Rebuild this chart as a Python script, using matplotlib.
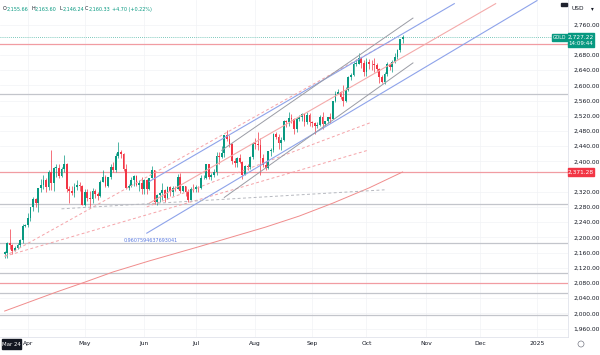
import numpy as np
import pandas as pd
import matplotlib
matplotlib.use("Agg")
from matplotlib import pyplot as plt
from matplotlib.patches import Rectangle, Circle

# daily GOLD candles, 19 Mar 2024 .. 21 Oct 2024
dates = pd.bdate_range("2024-03-19", "2024-10-21")

opens = [
    2155.66, 2160, 2186, 2181, 2165, 2172, 2179, 2194, 2230,
    2232, 2251, 2280, 2300, 2290, 2329, 2339, 2352, 2333, 2372, 2344, 2383, 2383, 2361, 2379, 2392,
    2327, 2322, 2316, 2332, 2337, 2335,
    2286, 2320, 2303, 2301, 2323, 2314, 2309, 2346, 2360, 2336, 2358, 2385, 2376, 2415, 2425, 2420,
    2379, 2329, 2334, 2350, 2361, 2338, 2343,
    2327, 2350, 2327, 2355, 2376, 2294, 2311, 2316, 2324, 2303, 2333, 2319, 2329, 2328, 2360, 2322,
    2334, 2319, 2298, 2327,
    2326, 2332, 2330, 2356, 2356, 2392, 2359, 2364, 2371, 2415, 2411, 2422, 2469, 2459, 2445, 2400,
    2396, 2409, 2398, 2364, 2387, 2384, 2411,
    2447, 2446, 2443, 2410, 2390, 2382, 2427, 2431, 2472, 2465, 2447, 2456, 2507, 2504, 2514, 2512,
    2484, 2512, 2518, 2524, 2504, 2521,
    2503, 2500, 2493, 2495, 2517, 2497, 2506, 2516, 2512, 2558, 2578, 2582, 2569, 2559, 2587, 2622,
    2628, 2657, 2657, 2672, 2658,
    2634, 2662, 2657, 2656, 2653, 2644, 2622, 2608, 2630, 2656, 2649, 2662, 2674, 2692, 2721,
]
highs = [
    2163.60, 2188, 2222, 2183, 2176, 2185, 2196, 2236, 2234,
    2265, 2281, 2305, 2304, 2330, 2354, 2365, 2355, 2376, 2431, 2385, 2393, 2393, 2385, 2417, 2396,
    2335, 2336, 2344, 2352, 2346, 2337,
    2326, 2326, 2323, 2331, 2326, 2318, 2351, 2378, 2364, 2359, 2392, 2398, 2422, 2450, 2430, 2422,
    2393, 2340, 2358, 2364, 2363, 2351, 2360,
    2354, 2353, 2356, 2387, 2378, 2315, 2318, 2342, 2327, 2335, 2335, 2335, 2335, 2366, 2369, 2335,
    2336, 2326, 2332, 2340,
    2338, 2335, 2365, 2363, 2393, 2393, 2368, 2381, 2424, 2424, 2440, 2469, 2483, 2470, 2448, 2408,
    2412, 2419, 2400, 2390, 2394, 2413, 2451,
    2462, 2477, 2461, 2418, 2402, 2428, 2434, 2475, 2478, 2471, 2464, 2509, 2509, 2531, 2525, 2513,
    2517, 2522, 2528, 2525, 2529, 2526,
    2506, 2503, 2504, 2523, 2529, 2507, 2518, 2528, 2560, 2586, 2590, 2586, 2600, 2596, 2625, 2632,
    2664, 2670, 2685, 2674, 2666,
    2673, 2670, 2666, 2671, 2658, 2646, 2626, 2634, 2661, 2660, 2667, 2684, 2696, 2722, 2732,
]
lows = [
    2146.24, 2146, 2168, 2157, 2163, 2168, 2174, 2186, 2228,
    2228, 2244, 2268, 2281, 2267, 2320, 2328, 2320, 2324, 2325, 2323, 2358, 2355, 2358, 2372, 2320,
    2291, 2311, 2305, 2325, 2322, 2285,
    2282, 2295, 2277, 2291, 2303, 2297, 2306, 2345, 2332, 2332, 2354, 2373, 2373, 2410, 2409, 2374,
    2326, 2325, 2333, 2334, 2334, 2323, 2314,
    2314, 2315, 2325, 2355, 2287, 2286, 2293, 2299, 2293, 2302, 2310, 2308, 2323, 2328, 2316, 2318,
    2310, 2293, 2297, 2318,
    2319, 2318, 2328, 2353, 2353, 2353, 2351, 2360, 2365, 2392, 2409, 2411, 2454, 2437, 2394, 2384,
    2385, 2396, 2353, 2364, 2377, 2379, 2405,
    2433, 2431, 2364, 2384, 2377, 2381, 2414, 2424, 2460, 2432, 2431, 2454, 2490, 2492, 2502, 2471,
    2478, 2505, 2506, 2494, 2499, 2492,
    2491, 2472, 2488, 2492, 2485, 2493, 2501, 2500, 2511, 2555, 2576, 2565, 2546, 2556, 2584, 2613,
    2624, 2651, 2655, 2645, 2625,
    2624, 2644, 2641, 2634, 2636, 2605, 2605, 2603, 2624, 2640, 2635, 2659, 2670, 2688, 2712,
]
closes = [
    2160.33, 2186, 2181, 2165, 2172, 2179, 2194, 2230, 2232,
    2251, 2280, 2300, 2290, 2329, 2339, 2352, 2333, 2372, 2344, 2383, 2383, 2361, 2379, 2392, 2327,
    2322, 2316, 2332, 2337, 2335, 2286,
    2320, 2303, 2301, 2323, 2314, 2309, 2346, 2360, 2336, 2358, 2385, 2376, 2415, 2425, 2420, 2379,
    2329, 2334, 2350, 2361, 2338, 2343, 2327,
    2350, 2327, 2355, 2376, 2294, 2311, 2316, 2324, 2303, 2333, 2319, 2329, 2328, 2360, 2322, 2334,
    2319, 2298, 2327, 2326,
    2332, 2330, 2356, 2356, 2392, 2359, 2364, 2371, 2415, 2411, 2422, 2469, 2459, 2445, 2400, 2396,
    2409, 2398, 2364, 2387, 2384, 2411, 2447,
    2446, 2443, 2410, 2390, 2382, 2427, 2431, 2472, 2465, 2447, 2456, 2507, 2504, 2514, 2512, 2484,
    2512, 2518, 2524, 2504, 2521, 2503,
    2500, 2493, 2495, 2517, 2497, 2506, 2516, 2512, 2558, 2578, 2582, 2569, 2559, 2587, 2622, 2628,
    2657, 2657, 2672, 2658, 2634,
    2662, 2657, 2656, 2653, 2644, 2622, 2608, 2630, 2656, 2649, 2662, 2674, 2692, 2721, 2727.22,
]

# 200 day moving average, read at a few dates
ma_dates = ["2024-03-19", "2024-04-16", "2024-05-01", "2024-05-16", "2024-06-05", "2024-07-02",
            "2024-08-07", "2024-08-26", "2024-09-12", "2024-10-02", "2024-10-21"]
ma_values = [2006, 2056, 2082, 2109, 2138, 2175, 2227, 2256, 2290, 2330, 2372]

# horizontal levels
gray_levels = [2576, 2288, 2184, 2105, 2053, 1996]
red_levels = [2710, 2371.28, 2079]
last_price = 2727.22

# trend lines: (start date, start price, end date, end price, kind)
trend_lines = [
    ("2024-03-19", 2150, "2024-10-15", 2719, "pink_dash"),
    ("2024-03-19", 2150, "2024-10-02", 2430, "pink_dash"),
    ("2024-06-04", 2280, "2024-10-03", 2503, "pink_dash"),
    ("2024-06-05", 2347, "2024-11-18", 2815, "blue"),
    ("2024-06-05", 2290, "2024-12-10", 2815, "red"),
    ("2024-06-04", 2211, "2025-01-01", 2823, "blue"),
    ("2024-07-15", 2429, "2024-10-25", 2777, "gray"),
    ("2024-07-16", 2305, "2024-10-25", 2659, "gray"),
    ("2024-04-18", 2275, "2024-10-10", 2325, "gray_dash"),
]

month_dates = ["2024-04-01", "2024-05-01", "2024-06-03", "2024-07-01", "2024-08-01",
               "2024-09-02", "2024-10-01", "2024-11-01", "2024-12-02", "2025-01-01"]
month_labels = ["Apr", "May", "Jun", "Jul", "Aug", "Sep", "Oct", "Nov", "Dec", "2025"]

GREEN = "#089981"
RED = "#f23645"
TXT = "#131722"
styles = {
    "pink_dash": dict(color="#f5a3a8", lw=0.7, ls=(0, (3, 2.5))),
    "blue": dict(color="#8ea3ea", lw=0.8, ls="-"),
    "red": dict(color="#f4aaaa", lw=0.8, ls="-"),
    "gray": dict(color="#9a9ca5", lw=0.7, ls="-"),
    "gray_dash": dict(color="#b6b8bf", lw=0.7, ls=(0, (3, 2.5))),
}

all_days = pd.bdate_range("2024-03-19", "2025-03-31")


def bar_index(day):
    return all_days.get_loc(pd.Timestamp(day))


def px(x, y):
    return x / 600, 1 - y / 355


fig = plt.figure(figsize=(6, 3.55), dpi=100)
ax = fig.add_axes([0, 18 / 355, 568 / 600, 337 / 355])
ax.set_xlim(-1.8, 218)
ax.set_ylim(1937.7, 2824.6)

o = np.array(opens)
h = np.array(highs)
l = np.array(lows)
c = np.array(closes)
x = np.arange(len(dates))
cols = np.where(c >= o, GREEN, RED)

for lv in gray_levels:
    ax.axhline(lv, color="#c3c5cb", lw=0.9, zorder=2)
for lv in red_levels:
    ax.axhline(lv, color="#f19ca2", lw=0.9, zorder=2)
ax.axhline(last_price, color=GREEN, lw=0.6, ls=(0, (1, 1.5)), alpha=0.7, zorder=2)

ax.plot([bar_index(d) for d in ma_dates], ma_values, color="#f08c8c", lw=0.7, zorder=2)

for d1, p1, d2, p2, kind in trend_lines:
    ax.plot([bar_index(d1), bar_index(d2)], [p1, p2], zorder=4, **styles[kind])

ax.vlines(x, l, h, colors=cols, lw=0.5, zorder=3)
ax.bar(x, np.maximum(np.abs(c - o), 0.8), bottom=np.minimum(o, c), width=0.7,
       color=cols, linewidth=0, zorder=3)

ax.text(bar_index("2024-05-22"), gray_levels[2] + 2, "0.9607594637693041", color="#5b7be0",
        fontsize=3.5, va="bottom", ha="left", zorder=5)

# axes look
yt = [v for v in range(1960, 2761, 40) if v not in (2720, 2360)]
ax.yaxis.tick_right()
ax.set_yticks(yt)
ax.set_yticklabels([f"{v:,.2f}" for v in yt])
ax.set_xticks([bar_index(d) for d in month_dates])
ax.set_xticklabels(month_labels)
ax.tick_params(axis="both", length=0, labelsize=4.3, colors=TXT)
ax.tick_params(axis="y", pad=4)
ax.tick_params(axis="x", pad=3)
ax.grid(True, color="#f2f3f6", lw=0.5)
ax.set_axisbelow(True)
for s in ["top", "left"]:
    ax.spines[s].set_visible(False)
for s in ["right", "bottom"]:
    ax.spines[s].set_color("#e0e3eb")
    ax.spines[s].set_linewidth(0.6)


def fig_y(price):
    return fig.transFigure.inverted().transform(ax.transData.transform((0, price)))[1]


# last price box
yl = fig_y(last_price)
fig.add_artist(Rectangle((568 / 600, yl - 10 / 355), 26 / 600, 14 / 355,
                         transform=fig.transFigure, color=GREEN, zorder=6))
fig.text(581 / 600, yl, "2,727.22", color="white", fontsize=4.2, ha="center", va="center", zorder=7)
fig.text(581 / 600, yl - 6.5 / 355, "14:09:44", color="white", fontsize=4.0, ha="center", va="center",
         zorder=7)
fig.add_artist(Rectangle((552 / 600, yl - 3.5 / 355), 15 / 600, 7 / 355,
                         transform=fig.transFigure, color=GREEN, zorder=6))
fig.text(559.5 / 600, yl, "GOLD", color="white", fontsize=3.3, ha="center", va="center", zorder=7)

# red level box
yr = fig_y(red_levels[1])
fig.add_artist(Rectangle((568 / 600, yr - 4 / 355), 26 / 600, 8 / 355,
                         transform=fig.transFigure, color=RED, zorder=6))
fig.text(581 / 600, yr, "2,371.28", color="white", fontsize=4.2, ha="center", va="center", zorder=7)

# header
head = [(3, "O", TXT), (6.8, "2,155.66", GREEN), (31, "H", TXT), (35, "2,163.60", GREEN),
        (59, "L", TXT), (62.2, "2,146.24", GREEN), (85, "C", TXT), (89, "2,160.33", GREEN),
        (112, "+4.70 (+0.22%)", GREEN)]
for hx, txt, col in head:
    fig.text(*px(hx, 9), txt, color=col, fontsize=3.5, va="center", ha="left")

fig.text(*px(572, 9), "USD", color=TXT, fontsize=4.2, va="center", ha="left")
fig.text(*px(592, 9), "\u25be", color=TXT, fontsize=4, va="center", ha="center")
fig.add_artist(Rectangle(px(561, 6), 6 / 600, 3 / 355, transform=fig.transFigure, color="#1e222d"))

fig.add_artist(Rectangle(px(2, 349), 19 / 600, 10 / 355, transform=fig.transFigure, color="#131722",
                         zorder=6))
fig.text(*px(11.5, 344), "Mar 24", color="white", fontsize=3.9, ha="center", va="center", zorder=7)
fig.add_artist(Circle((5.81, 0.11), 0.03, transform=fig.dpi_scale_trans, fill=False,
                      ec="#787b86", lw=0.5))

fig.savefig("out.png", dpi=100)
